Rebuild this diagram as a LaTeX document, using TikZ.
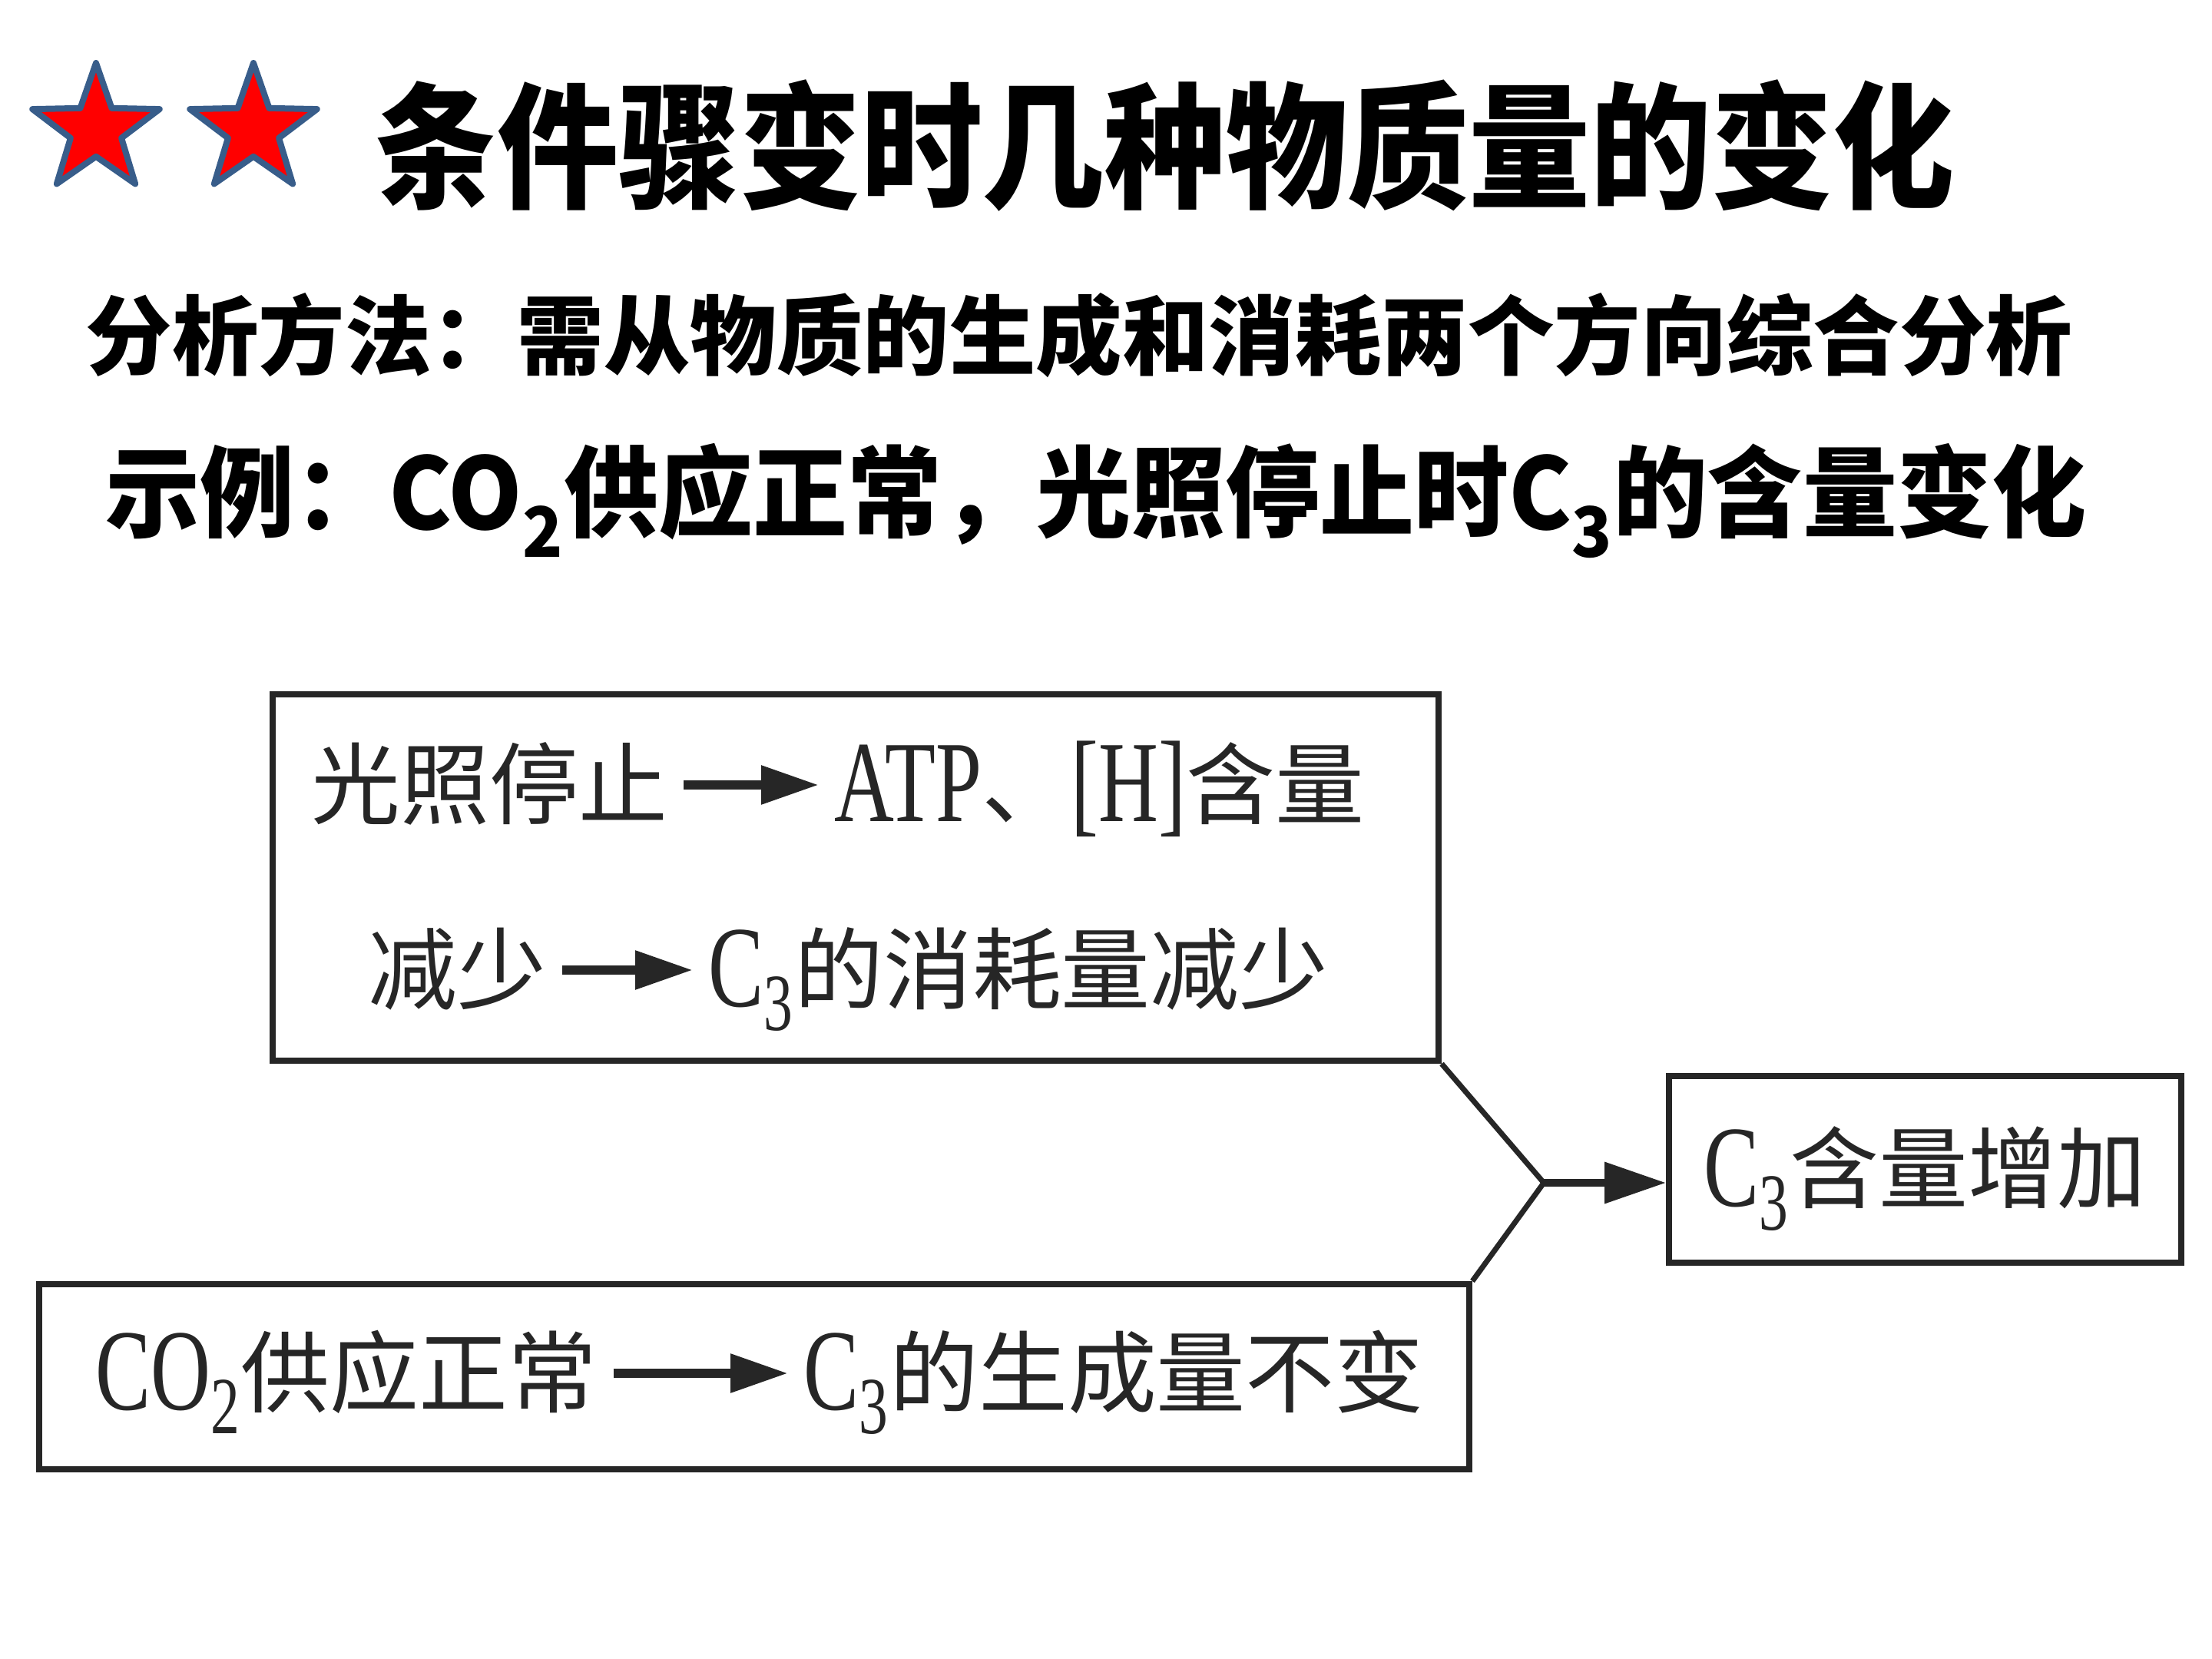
\documentclass[tikz,border=0pt]{standalone}
\usepackage{fontspec}
\usepackage{graphicx}
\usepackage{tikz}
\usetikzlibrary{shapes.geometric,arrows.meta}
\newfontfamily\cjk{Noto Sans CJK SC}
\newfontfamily\lat{Liberation Serif}
\definecolor{starblue}{HTML}{385D8A}
\definecolor{ink}{HTML}{262626}
\newcommand\latin[1]{\raisebox{-0.05em}{\scalebox{0.93}[1.3]{\lat #1}}}

\begin{document}
\begin{tikzpicture}
  [stars/.style={star,star points=5,star point ratio=2.5,minimum size=1.74cm,inner sep=0pt,
     fill=red,draw=starblue,line width=0.08cm,line join=round},
   titletext/.style={font=\cjk\bfseries\fontsize{45}{54}\selectfont,inner sep=0pt},
   subtext/.style={font=\cjk\bfseries\fontsize{32}{38}\selectfont,inner sep=0pt},
   boxframe/.style={draw=ink,line width=0.08cm,inner sep=0pt},
   wordtext/.style={font=\cjk\fontsize{33}{40}\selectfont,text=ink,inner sep=0pt,
     text height=28pt,text depth=4pt},
   link/.style={draw=ink,line width=0.07cm},
   tolink/.style={draw=ink,line width=0.1cm,-{Triangle[length=0.8cm,width=0.52cm]}},
   inarrow/.style={draw=ink,line width=0.12cm,-{Triangle[length=0.75cm,width=0.48cm]},
     shorten <=2mm,shorten >=2mm}]

  \fill[white] (0,0) rectangle (28.8,-21.6);
  \useasboundingbox (0,0) rectangle (28.8,-21.6);

  \node[stars] (s1) at (1.25,-1.69) {};
  \node[stars] (s2) at (3.30,-1.69) {};
  \node[titletext] (h1) at (15.17,-1.90) {\scalebox{1}[1.12]{条件骤变时几种物质量的变化}};
  \node[subtext] (h2) at (14.05,-4.37) {分析方法：需从物质的生成和消耗两个方向综合分析};
  \node[subtext,font=\cjk\bfseries\fontsize{35}{42}\selectfont] (h3) at (14.27,-6.52)
    {\scalebox{1}[1.05]{示例：CO\textsubscript{2}供应正常，光照停止时C\textsubscript{3}的含量变化}};

  \node[boxframe,minimum width=15.18cm,minimum height=4.77cm] (n1) at (11.14,-11.425) {};
  \node[boxframe,minimum width=18.62cm,minimum height=2.41cm] (n2) at (9.82,-17.925) {};
  \node[boxframe,wordtext,minimum width=6.67cm,minimum height=2.43cm] (n3) at (25.065,-15.225)
    {\latin{C\textsubscript{3}}含量增加};

  \node[wordtext,anchor=west] (n4) at (4.05,-10.22) {光照停止};
  \node[wordtext,anchor=west] (n5) at (10.86,-10.22) {\latin{ATP}、\latin{[H]}含量};
  \node[wordtext,anchor=west] (n6) at (4.79,-12.63) {减少};
  \node[wordtext,anchor=west] (n7) at (9.22,-12.63) {\latin{C\textsubscript{3}}的消耗量减少};
  \node[wordtext,anchor=west] (n8) at (1.24,-17.88) {\latin{CO\textsubscript{2}}供应正常};
  \node[wordtext,anchor=west] (n9) at (10.46,-17.88) {\latin{C\textsubscript{3}}的生成量不变};
  \coordinate (j) at (20.10,-15.40);

  \foreach \from/\to in {n4/n5,n6/n7,n8/n9}
    \draw[inarrow] (\from) -- (\to);
  \draw[link] (n1.south east) -- (j) -- (n2.north east);
  \draw[tolink] (j) -- (j -| n3.west);
\end{tikzpicture}
\end{document}
